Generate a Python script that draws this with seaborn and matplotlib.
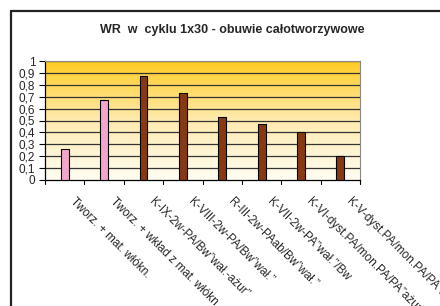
import numpy as np
import pandas as pd
import matplotlib
matplotlib.use("Agg")
import matplotlib.pyplot as plt
import seaborn as sns
from matplotlib.colors import LinearSegmentedColormap
from matplotlib.lines import Line2D

categories = [
    "Tworz. + mat. włókn.",
    "Tworz. + wkład z mat. włókn.",
    "K-IX-2w-PA/Bw”wał.-ażur”",
    "K-VIII-2w-PA/Bw”wał.”",
    "R-III-2w-PAab/Bw”wał.”",
    "K-VII-2w-PA”wał.”/Bw",
    "K-VI-dyst.PA/mon.PA/PA”ażur”",
    "K-V-dyst.PA/mon.PA/PA”ażur”",
]
values = [0.26, 0.67, 0.87, 0.73, 0.53, 0.47, 0.40, 0.20]
groups = ["a", "a", "b", "b", "b", "b", "b", "b"]
y_ticks = [0, 0.1, 0.2, 0.3, 0.4, 0.5, 0.6, 0.7, 0.8, 0.9, 1]
y_tick_labels = ["0", "0,1", "0,2", "0,3", "0,4", "0,5", "0,6", "0,7", "0,8", "0,9", "1"]
title = "WR  w  cyklu 1x30 - obuwie całotworzywowe"

sns.set_style("white")
plt.rcParams["font.family"] = ["Liberation Sans", "DejaVu Sans"]

df = pd.DataFrame({"cat": categories, "val": values, "grp": groups})

fig = plt.figure(figsize=(4.4, 3.06), dpi=100)
# outer chart border (left and top edges only visible)
x0, y0 = 11 / 440, 1 - 10.5 / 306
fig.lines.append(Line2D([x0, x0], [0, y0], transform=fig.transFigure,
                        color="#222222", linewidth=1.6))
fig.lines.append(Line2D([x0, 1], [y0, y0], transform=fig.transFigure,
                        color="#222222", linewidth=1.6))

ax = fig.add_axes([45 / 440, (306 - 180) / 306, 315 / 440, 119 / 306])

cmap = LinearSegmentedColormap.from_list("g", ["#FFFDF2", "#FFEBB0", "#FFCC22"])
grad = np.linspace(0, 1, 256).reshape(-1, 1)
ax.imshow(grad, aspect="auto", cmap=cmap, origin="lower",
          extent=[-0.5, len(categories) - 0.5, 0, 1], zorder=0)

for t in y_ticks[1:]:
    ax.axhline(t, color="#333333", linewidth=0.9, zorder=1)

sns.barplot(data=df, x="cat", y="val", hue="grp",
            palette={"a": "#FF99CC", "b": "#993300"},
            width=0.2, dodge=False, legend=False, ax=ax,
            edgecolor="black", linewidth=0.8, zorder=3)

ax.set_xlim(-0.5, len(categories) - 0.5)
ax.set_ylim(0, 1)
ax.set_yticks(y_ticks)
ax.set_yticklabels(y_tick_labels, fontsize=8.5)
# label anchors shifted slightly right of bar centres, as in the reference
ax.set_xticks(np.arange(len(categories)) + 0.3)
ax.set_xticklabels(categories, rotation=-45, ha="left", va="top",
                   rotation_mode="anchor", fontsize=8.5)
for lbl in ax.get_xticklabels():
    lbl.set_clip_on(False)
ax.set_xlabel("")
ax.set_ylabel("")

ax.tick_params(axis="x", length=0, pad=11)
ax.tick_params(axis="y", length=4, width=0.8, color="black", pad=3, direction="out", left=True)
for b in np.arange(len(categories) + 1) - 0.5:
    ax.plot([b, b], [0, -0.035], color="black", linewidth=0.8, clip_on=False, zorder=4)

for side in ["top", "right"]:
    ax.spines[side].set_color("#888888")
    ax.spines[side].set_linewidth(0.8)
for side in ["left", "bottom"]:
    ax.spines[side].set_color("black")
    ax.spines[side].set_linewidth(0.9)

fig.text(232 / 440, 1 - 30 / 306, title, ha="center", va="center",
         fontsize=9, fontweight="bold")

fig.savefig("out.png", dpi=100)
